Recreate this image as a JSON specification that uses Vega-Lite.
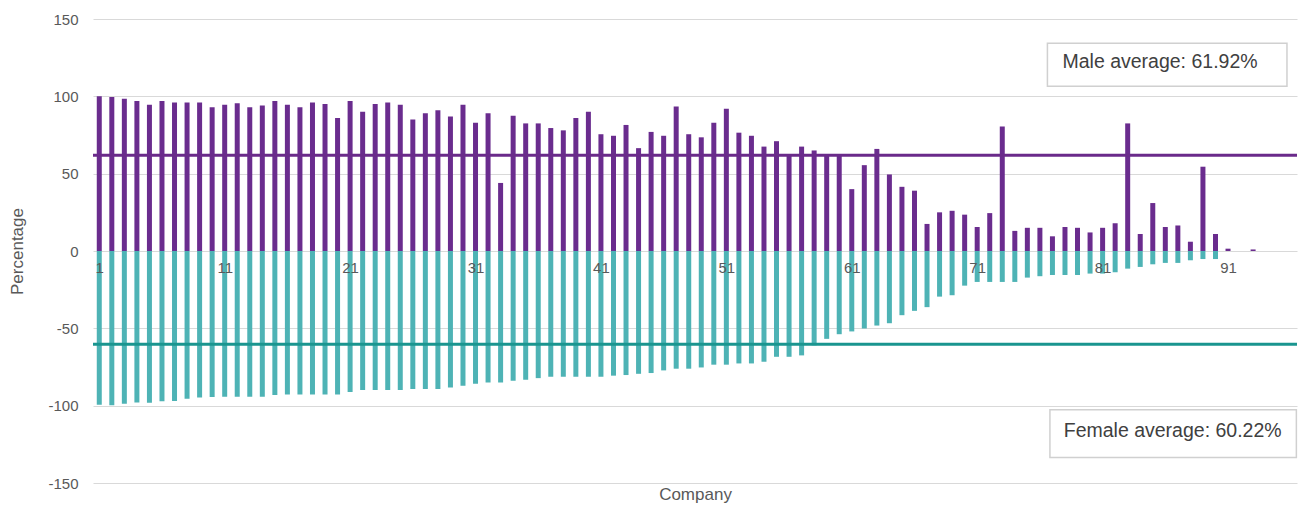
{
  "$schema": "https://vega.github.io/schema/vega-lite/v6.json",
  "width": 1204,
  "height": 464,
  "autosize": {"type": "none"},
  "padding": {"left": 93, "top": 19, "right": 3, "bottom": 23},
  "background": "white",
  "config": {
    "view": {"stroke": null},
    "font": "Liberation Sans"
  },
  "datasets": {
    "companies": [
      {"company": 1, "male": 100, "female": -99.4},
      {"company": 2, "male": 99.5, "female": -99.8},
      {"company": 3, "male": 98.5, "female": -98.7},
      {"company": 4, "male": 97, "female": -97.9},
      {"company": 5, "male": 94.5, "female": -98.1},
      {"company": 6, "male": 97, "female": -97.2},
      {"company": 7, "male": 96, "female": -97.0},
      {"company": 8, "male": 96, "female": -95.5},
      {"company": 9, "male": 96, "female": -94.8},
      {"company": 10, "male": 93, "female": -94.4},
      {"company": 11, "male": 94.5, "female": -94.2},
      {"company": 12, "male": 95.5, "female": -94.2},
      {"company": 13, "male": 93, "female": -94.2},
      {"company": 14, "male": 94, "female": -94.2},
      {"company": 15, "male": 97, "female": -93.1},
      {"company": 16, "male": 94.5, "female": -92.7},
      {"company": 17, "male": 93, "female": -92.7},
      {"company": 18, "male": 96, "female": -92.7},
      {"company": 19, "male": 95, "female": -92.7},
      {"company": 20, "male": 86, "female": -92.7},
      {"company": 21, "male": 97, "female": -91.2},
      {"company": 22, "male": 90, "female": -89.9},
      {"company": 23, "male": 95, "female": -89.9},
      {"company": 24, "male": 96, "female": -89.9},
      {"company": 25, "male": 94.5, "female": -89.9},
      {"company": 26, "male": 85, "female": -89.2},
      {"company": 27, "male": 89, "female": -89.2},
      {"company": 28, "male": 91, "female": -89.2},
      {"company": 29, "male": 87, "female": -88.2},
      {"company": 30, "male": 94.5, "female": -87.1},
      {"company": 31, "male": 83, "female": -85.8},
      {"company": 32, "male": 89, "female": -85.0},
      {"company": 33, "male": 44, "female": -85.0},
      {"company": 34, "male": 87.5, "female": -83.9},
      {"company": 35, "male": 82.5, "female": -83.2},
      {"company": 36, "male": 82.5, "female": -82.2},
      {"company": 37, "male": 79.5, "female": -81.3},
      {"company": 38, "male": 78, "female": -81.3},
      {"company": 39, "male": 86, "female": -81.3},
      {"company": 40, "male": 90, "female": -81.3},
      {"company": 41, "male": 75.5, "female": -81.3},
      {"company": 42, "male": 74.5, "female": -80.6},
      {"company": 43, "male": 81.5, "female": -80.2},
      {"company": 44, "male": 66.5, "female": -79.4},
      {"company": 45, "male": 77, "female": -78.9},
      {"company": 46, "male": 74.5, "female": -77.2},
      {"company": 47, "male": 93.5, "female": -76.1},
      {"company": 48, "male": 75.5, "female": -76.1},
      {"company": 49, "male": 73.5, "female": -75.3},
      {"company": 50, "male": 83, "female": -73.5},
      {"company": 51, "male": 92, "female": -73.5},
      {"company": 52, "male": 76.5, "female": -72.7},
      {"company": 53, "male": 74.5, "female": -72.7},
      {"company": 54, "male": 67.5, "female": -71.6},
      {"company": 55, "male": 71, "female": -68.4},
      {"company": 56, "male": 62, "female": -68.4},
      {"company": 57, "male": 67.5, "female": -67.5},
      {"company": 58, "male": 65, "female": -61},
      {"company": 59, "male": 62, "female": -56.8},
      {"company": 60, "male": 62, "female": -53.8},
      {"company": 61, "male": 40, "female": -52.0},
      {"company": 62, "male": 55.5, "female": -50.1},
      {"company": 63, "male": 66, "female": -48.2},
      {"company": 64, "male": 49.5, "female": -46.7},
      {"company": 65, "male": 41.5, "female": -41.5},
      {"company": 66, "male": 39, "female": -38.7},
      {"company": 67, "male": 17.5, "female": -36.3},
      {"company": 68, "male": 25, "female": -29.5},
      {"company": 69, "male": 26, "female": -28.6},
      {"company": 70, "male": 23.5, "female": -22.4},
      {"company": 71, "male": 15.5, "female": -20},
      {"company": 72, "male": 24.5, "female": -20},
      {"company": 73, "male": 80.5, "female": -20},
      {"company": 74, "male": 13, "female": -20},
      {"company": 75, "male": 15, "female": -17.2},
      {"company": 76, "male": 15, "female": -16.3},
      {"company": 77, "male": 9.5, "female": -15.5},
      {"company": 78, "male": 15.5, "female": -15.5},
      {"company": 79, "male": 15, "female": -15.5},
      {"company": 80, "male": 12, "female": -14.6},
      {"company": 81, "male": 15, "female": -14.6},
      {"company": 82, "male": 18, "female": -13.8},
      {"company": 83, "male": 82.5, "female": -11.4},
      {"company": 84, "male": 11, "female": -10.3},
      {"company": 85, "male": 31, "female": -8.6},
      {"company": 86, "male": 15.5, "female": -7.7},
      {"company": 87, "male": 16.5, "female": -7.7},
      {"company": 88, "male": 6, "female": -6.0},
      {"company": 89, "male": 54.5, "female": -5.2},
      {"company": 90, "male": 11, "female": -5.2},
      {"company": 91, "male": 1.5, "female": 0},
      {"company": 92, "male": 0, "female": 0},
      {"company": 93, "male": 1, "female": 0}
    ],
    "averages": [
      {"series": "Male average", "avg": 61.92},
      {"series": "Female average", "avg": -60.22}
    ]
  },
  "layer": [
    {
      "data": {"name": "companies"},
      "mark": {"type": "bar", "size": 5, "color": "#6a2c8e"},
      "encoding": {
        "x": {
          "field": "company", "type": "quantitative",
          "scale": {"domain": [0.5, 96.5], "nice": false, "zero": false, "padding": 0},
          "axis": {
            "values": [1, 11, 21, 31, 41, 51, 61, 71, 81, 91],
            "grid": false, "domain": false, "ticks": false,
            "offset": -232, "labelPadding": 9, "zindex": 1,
            "labelFontSize": 15, "labelColor": "#595959",
            "title": "Company", "titleFontSize": 17, "titleColor": "#595959",
            "titleFontWeight": "normal", "titleY": 243, "titleBaseline": "middle"
          }
        },
        "y": {
          "field": "male", "type": "quantitative",
          "scale": {"domain": [-150, 150], "nice": false},
          "axis": {
            "values": [-150, -100, -50, 0, 50, 100, 150],
            "labelExpr": "replace(datum.label, '−', '-')",
            "grid": true, "gridColor": "#d9d9d9", "gridWidth": 1,
            "domain": false, "ticks": false, "labelPadding": 15,
            "labelFontSize": 15, "labelColor": "#595959",
            "title": "Percentage", "titleFontSize": 17, "titleColor": "#595959",
            "titleFontWeight": "normal", "titleX": -76, "titleY": 232,
            "titleAlign": "center", "titleBaseline": "middle", "titleAngle": 270
          }
        }
      }
    },
    {
      "data": {"name": "companies"},
      "mark": {"type": "bar", "size": 5, "color": "#4eb3b5"},
      "encoding": {
        "x": {"field": "company", "type": "quantitative"},
        "y": {"field": "female", "type": "quantitative"}
      }
    },
    {
      "data": {"name": "averages"},
      "mark": {"type": "rule", "strokeWidth": 3},
      "encoding": {
        "y": {"field": "avg", "type": "quantitative"},
        "color": {
          "field": "series", "type": "nominal", "legend": null,
          "scale": {"domain": ["Male average", "Female average"], "range": ["#6a2a8a", "#1a958f"]}
        }
      }
    },
    {
      "data": {"values": [{"label": "Male average: 61.92%"}]},
      "layer": [
        {
          "mark": {"type": "rect", "fill": "white", "stroke": "#d0d0d0", "strokeWidth": 1.5},
          "encoding": {
            "x": {"datum": 76.6, "type": "quantitative"},
            "x2": {"datum": 95.7},
            "y": {"datum": 134.4, "type": "quantitative"},
            "y2": {"datum": 106.5}
          }
        },
        {
          "mark": {"type": "text", "align": "left", "baseline": "middle", "fontSize": 19.5, "color": "#404040"},
          "encoding": {
            "x": {"datum": 77.8, "type": "quantitative"},
            "y": {"datum": 122, "type": "quantitative"},
            "text": {"field": "label"}
          }
        }
      ]
    },
    {
      "data": {"values": [{"label": "Female average: 60.22%"}]},
      "layer": [
        {
          "mark": {"type": "rect", "fill": "white", "stroke": "#d0d0d0", "strokeWidth": 1.5},
          "encoding": {
            "x": {"datum": 76.8, "type": "quantitative"},
            "x2": {"datum": 96.45},
            "y": {"datum": -102.6, "type": "quantitative"},
            "y2": {"datum": -133.5}
          }
        },
        {
          "mark": {"type": "text", "align": "left", "baseline": "middle", "fontSize": 19.5, "color": "#404040"},
          "encoding": {
            "x": {"datum": 77.9, "type": "quantitative"},
            "y": {"datum": -116.6, "type": "quantitative"},
            "text": {"field": "label"}
          }
        }
      ]
    }
  ]
}
